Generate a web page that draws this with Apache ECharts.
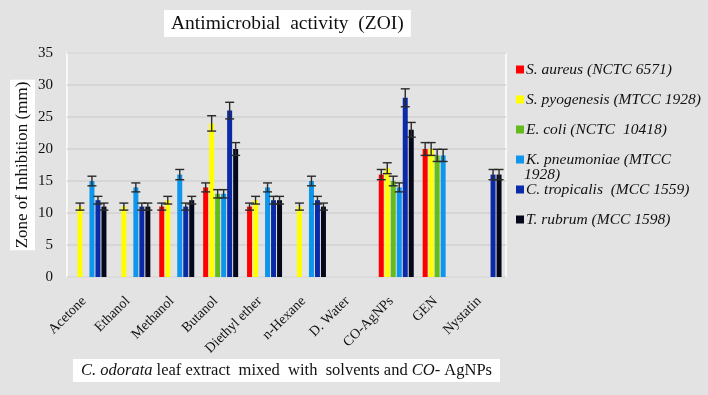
<!DOCTYPE html>
<html>
<head>
<meta charset="utf-8">
<script src="https://cdn.jsdelivr.net/npm/echarts@6/dist/echarts.min.js"></script>
<style>
  html, body { margin: 0; padding: 0; background: #e3e3e3; }
  #chart { width: 708px; height: 395px; }
</style>
</head>
<body>
<div id="chart"></div>
<script>
// categories (solvents / controls)
var categories = ['Acetone', 'Ethanol', 'Methanol', 'Butanol', 'Diethyl ether', 'n-Hexane', 'D. Water', 'CO-AgNPs', 'GEN', 'Nystatin'];

// organisms
var names = ['S. aureus (NCTC 6571)', 'S. pyogenesis (MTCC 1928)', 'E. coli (NCTC  10418)', 'K. pneumoniae (MTCC 1928)', 'C. tropicalis  (MCC 1559)', 'T. rubrum (MCC 1598)'];
var colors = ['#ff0000', '#ffff00', '#66bb1c', '#0d96ec', '#0a2aa8', '#05081c'];

// zone of inhibition (mm), '-' = no bar
var sAureus    = ['-', '-', 11, 14, 11, '-', '-', 16, 20, '-'];
var sPyogenes  = [11, 11, 12, 24, 12, 11, '-', 17, 20, '-'];
var eColi      = ['-', '-', '-', 13, '-', '-', '-', 15, 19, '-'];
var kPneumo    = [15, 14, 16, 13, 14, 15, '-', 14, 19, '-'];
var cTropic    = [12, 11, 11, 26, 12, 12, '-', 28, '-', 16];
var tRubrum    = [11, 11, 12, 20, 12, 11, '-', 23, '-', 16];

// error bar half-heights
var sAureusErr   = [0, 0, 0.55, 0.7, 0.55, 0, 0, 0.8, 1.0, 0];
var sPyogenesErr = [0.55, 0.55, 0.6, 1.2, 0.6, 0.55, 0, 0.85, 1.0, 0];
var eColiErr     = [0, 0, 0, 0.65, 0, 0, 0, 0.75, 0.95, 0];
var kPneumoErr   = [0.75, 0.7, 0.8, 0.65, 0.7, 0.75, 0, 0.7, 0.95, 0];
var cTropicErr   = [0.6, 0.55, 0.55, 1.3, 0.6, 0.6, 0, 1.4, 0, 0.8];
var tRubrumErr   = [0.55, 0.55, 0.6, 1.0, 0.6, 0.55, 0, 1.15, 0, 0.8];

var values = [sAureus, sPyogenes, eColi, kPneumo, cTropic, tRubrum];
var errors = [sAureusErr, sPyogenesErr, eColiErr, kPneumoErr, cTropicErr, tRubrumErr];

var serif = "'Liberation Serif', 'Times New Roman', serif";
var barW = 5, slot = 6;

var myChart = echarts.init(document.getElementById('chart'));

var series = [];
// bars
values.forEach(function (arr, i) {
    series.push({
        name: names[i],
        type: 'bar',
        data: arr,
        barWidth: barW,
        barGap: '20%',
        itemStyle: { color: colors[i] },
        z: 2
    });
});
// error bars
values.forEach(function (arr, i) {
    var d = [];
    arr.forEach(function (v, j) {
        if (v !== '-') d.push([j, v, errors[i][j]]);
    });
    series.push({
        name: names[i] + ' err',
        type: 'custom',
        data: d,
        encode: { x: 0, y: 1 },
        z: 5,
        silent: true,
        renderItem: function (params, api) {
            var c = api.value(0), v = api.value(1), e = api.value(2);
            var off = (i - 2.5) * slot;
            var x = api.coord([c, v])[0] + off;
            var yt = api.coord([c, v + e])[1];
            var yb = api.coord([c, v - e])[1];
            var st = { stroke: '#2a2a2a', lineWidth: 1.4 };
            return {
                type: 'group',
                children: [
                    { type: 'line', shape: { x1: x, y1: yt, x2: x, y2: yb }, style: st },
                    { type: 'line', shape: { x1: x - 4.5, y1: yt, x2: x + 4.5, y2: yt }, style: st },
                    { type: 'line', shape: { x1: x - 4.5, y1: yb, x2: x + 4.5, y2: yb }, style: st }
                ]
            };
        }
    });
});

var option = {
    backgroundColor: '#e3e3e3',
    animation: false,
    title: {
        text: 'Antimicrobial  activity  (ZOI)',
        left: 164,
        top: 10,
        backgroundColor: '#ffffff',
        padding: [4, 7, 3, 7],
        textStyle: { fontFamily: serif, fontSize: 19.5, fontWeight: 'normal', color: '#111' }
    },
    legend: {
        orient: 'vertical',
        left: 511,
        top: 56,
        itemWidth: 8,
        itemHeight: 8,
        itemGap: 13,
        icon: 'rect',
        data: names,
        formatter: function (n) {
            return n === names[3] ? 'K. pneumoniae (MTCC' : n;
        },
        textStyle: { fontFamily: serif, fontStyle: 'italic', fontSize: 15.5, color: '#111', lineHeight: 17, padding: [0, 0, 0, -3] }
    },
    graphic: [{
        type: 'text',
        left: 524,
        top: 167,
        style: { text: '1928)', font: 'italic 15.5px ' + serif, fill: '#111' }
    }],
    grid: {
        left: 67, right: 202, top: 53, bottom: 118,
        outerBoundsMode: 'none',
        containLabel: false,
        show: true,
        borderColor: '#ffffff',
        borderWidth: 1.5,
        backgroundColor: 'transparent'
    },
    xAxis: {
        type: 'category',
        data: categories,
        axisLine: { show: false },
        axisTick: { show: false },
        axisLabel: { interval: 0, rotate: 45, fontFamily: serif, fontSize: 14, color: '#111', margin: 17, padding: [0, 7, 0, 0] },
        name: '{i|C. odorata}{n| leaf extract  mixed  with  solvents and }{i|CO}{n|- AgNPs}',
        nameLocation: 'middle',
        nameMoveOverlap: false,
        nameGap: 82,
        nameTextStyle: {
            backgroundColor: '#ffffff',
            padding: [3, 8, 3, 8],
            rich: {
                i: { fontFamily: serif, fontSize: 16.5, fontStyle: 'italic', color: '#111' },
                n: { fontFamily: serif, fontSize: 16.5, color: '#111' }
            }
        }
    },
    yAxis: {
        type: 'value',
        min: 0,
        max: 35,
        interval: 5,
        axisLine: { show: false },
        axisTick: { show: false },
        splitLine: { lineStyle: { color: '#d2d2d2', width: 1.5 } },
        axisLabel: { fontFamily: serif, fontSize: 15, color: '#111', margin: 14 },
        name: 'Zone of Inhibition (mm)',
        nameLocation: 'middle',
        nameMoveOverlap: false,
        nameGap: 32,
        nameTextStyle: {
            fontFamily: serif, fontSize: 17, color: '#111',
            backgroundColor: '#ffffff',
            padding: [4, 2, 4, 2]
        }
    },
    series: series
};

myChart.setOption(option);
</script>
</body>
</html>
